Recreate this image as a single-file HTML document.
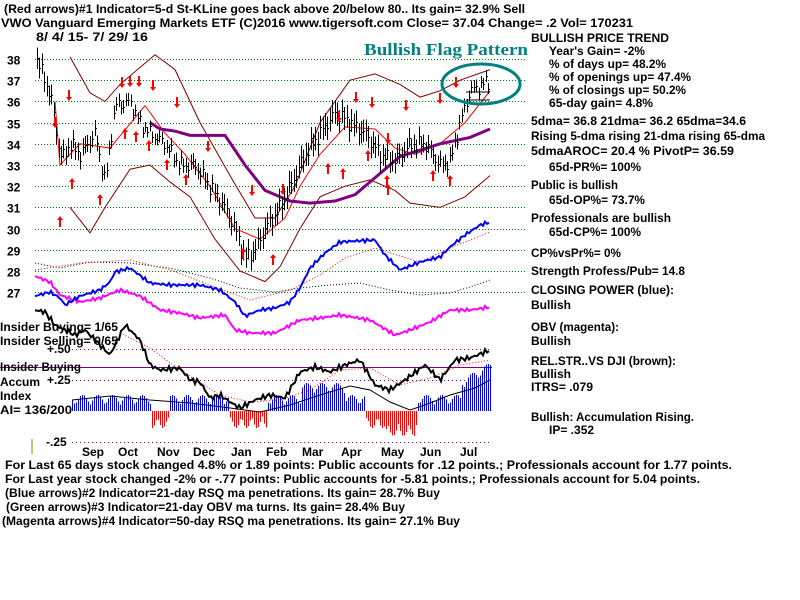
<!DOCTYPE html>
<html><head><meta charset="utf-8"><style>
html,body{margin:0;padding:0;background:#fff;}
svg{display:block;}
text{font-family:"Liberation Sans",sans-serif;font-size:12px;fill:#000;font-weight:bold;}
</style></head><body>
<svg id="s" width="800" height="600" viewBox="0 0 800 600" xmlns="http://www.w3.org/2000/svg">
<g id="grid"></g>
<g id="chart"></g>
<text x="4" y="13" textLength="521" lengthAdjust="spacingAndGlyphs">(Red arrows)#1 Indicator=5-d St-KLine goes back above 20/below 80.. Its gain= 32.9% Sell</text>
<text x="1" y="27" textLength="632" lengthAdjust="spacingAndGlyphs">VWO   Vanguard Emerging Markets ETF   (C)2016 www.tigersoft.com      Close=  37.04  Change= .2 Vol=  170231</text>
<text x="36" y="41" textLength="112" lengthAdjust="spacingAndGlyphs">8/ 4/ 15-  7/ 29/ 16</text>
<text x="364" y="55" style="font-family:'Liberation Serif',serif;font-size:17px;font-weight:bold;fill:#008080" textLength="164" lengthAdjust="spacingAndGlyphs">Bullish Flag Pattern</text>
<ellipse cx="481" cy="84" rx="39" ry="20" fill="none" stroke="#008080" stroke-width="3"/>
<g id="right">
<text x="531" y="42" textLength="138" lengthAdjust="spacingAndGlyphs">BULLISH PRICE TREND</text>
<text x="549" y="55" textLength="96" lengthAdjust="spacingAndGlyphs">Year's Gain= -2%</text>
<text x="549" y="68" textLength="117" lengthAdjust="spacingAndGlyphs">% of days up= 48.2%</text>
<text x="549" y="81" textLength="142" lengthAdjust="spacingAndGlyphs">% of openings up= 47.4%</text>
<text x="549" y="94" textLength="137" lengthAdjust="spacingAndGlyphs">% of closings up= 50.2%</text>
<text x="549" y="107" textLength="104" lengthAdjust="spacingAndGlyphs">65-day gain= 4.8%</text>
<text x="531" y="125" textLength="215" lengthAdjust="spacingAndGlyphs">5dma= 36.8 21dma= 36.2 65dma=34.6</text>
<text x="531" y="140" textLength="234" lengthAdjust="spacingAndGlyphs">Rising 5-dma  rising 21-dma  rising 65-dma</text>
<text x="531" y="155" textLength="203" lengthAdjust="spacingAndGlyphs">5dmaAROC= 20.4 %  PivotP= 36.59</text>
<text x="549" y="171" textLength="92" lengthAdjust="spacingAndGlyphs">65d-PR%= 100%</text>
<text x="531" y="189" textLength="87" lengthAdjust="spacingAndGlyphs">Public is bullish</text>
<text x="549" y="204" textLength="96" lengthAdjust="spacingAndGlyphs">65d-OP%= 73.7%</text>
<text x="531" y="222" textLength="140" lengthAdjust="spacingAndGlyphs">Professionals are bullish</text>
<text x="549" y="236" textLength="92" lengthAdjust="spacingAndGlyphs">65d-CP%= 100%</text>
<text x="531" y="257" textLength="90" lengthAdjust="spacingAndGlyphs">CP%vsPr%=  0%</text>
<text x="531" y="275" textLength="154" lengthAdjust="spacingAndGlyphs">Strength Profess/Pub= 14.8</text>
<text x="531" y="294" textLength="143" lengthAdjust="spacingAndGlyphs">CLOSING POWER (blue):</text>
<text x="531" y="309">Bullish</text>
<text x="531" y="331" textLength="88" lengthAdjust="spacingAndGlyphs">OBV (magenta):</text>
<text x="531" y="345">Bullish</text>
<text x="531" y="365" textLength="145" lengthAdjust="spacingAndGlyphs">REL.STR..VS DJI (brown):</text>
<text x="531" y="378">Bullish</text>
<text x="531" y="391" textLength="62" lengthAdjust="spacingAndGlyphs">ITRS= .079</text>
<text x="531" y="421" textLength="163" lengthAdjust="spacingAndGlyphs">Bullish: Accumulation Rising.</text>
<text x="549" y="434">IP=  .352</text>
</g>
<g>
<text x="0" y="331" textLength="118" lengthAdjust="spacingAndGlyphs">Insider Buying= 1/65</text>
<text x="0" y="345" textLength="118" lengthAdjust="spacingAndGlyphs">Insider Selling= 0/65</text>
<text x="47" y="353">+.50</text>
<text x="0" y="371" textLength="81" lengthAdjust="spacingAndGlyphs">Insider Buying</text>
<text x="0" y="386">Accum</text>
<text x="47" y="384">+.25</text>
<text x="0" y="400">Index</text>
<text x="0" y="414" textLength="72" lengthAdjust="spacingAndGlyphs">AI= 136/200</text>
<text x="46" y="446">-.25</text>
<line x1="32" y1="439" x2="32" y2="454" stroke="#808000"/>
<text x="82" y="456">Sep</text><text x="118" y="456">Oct</text><text x="157" y="456">Nov</text><text x="193" y="456">Dec</text><text x="231" y="456">Jan</text><text x="266" y="456">Feb</text><text x="302" y="456">Mar</text><text x="341" y="456">Apr</text><text x="381" y="456">May</text><text x="420" y="456">Jun</text><text x="460" y="456">Jul</text>
<text x="5" y="469" textLength="727" lengthAdjust="spacingAndGlyphs">For Last 65 days stock changed  4.8% or  1.89 points:  Public accounts for  .12 points.;  Professionals account for  1.77 points.</text>
<text x="5" y="483" textLength="695" lengthAdjust="spacingAndGlyphs">For Last year stock changed -2% or -.77 points:  Public accounts for -5.81 points.;  Professionals account for  5.04 points.</text>
<text x="5" y="497" textLength="435" lengthAdjust="spacingAndGlyphs">(Blue arrows)#2 Indicator=21-day RSQ ma penetrations. Its gain= 28.7% Buy</text>
<text x="6" y="511" textLength="399" lengthAdjust="spacingAndGlyphs">(Green arrows)#3 Indicator=21-day OBV ma turns. Its gain= 28.4% Buy</text>
<text x="2" y="525" textLength="458" lengthAdjust="spacingAndGlyphs">(Magenta arrows)#4 Indicator=50-day RSQ ma penetrations. Its gain= 27.1% Buy</text>
</g>
</svg>
<script>
var NS="http://www.w3.org/2000/svg";
function el(p,t,a){var e=document.createElementNS(NS,t);for(var k in a)e.setAttribute(k,a[k]);p.appendChild(e);return e;}
var G=document.getElementById('grid'),C=document.getElementById('chart');
function py(p){return 59+(38-p)*21.2;}
for(var p=27;p<=38;p++){var y=Math.round(py(p))+0.5;el(G,'line',{x1:35,x2:525,y1:y,y2:y,stroke:'#008000','stroke-dasharray':'1,2'});
 var t=el(G,'text',{x:7,y:y+5,'font-size':'13'});t.textContent=p;}
[349,380,442].forEach(function(y){el(G,'line',{x1:72,x2:490,y1:y+0.5,y2:y+0.5,stroke:'#800080','stroke-dasharray':'1,3'});});
el(G,'line',{x1:0,x2:492,y1:367.5,y2:367.5,stroke:'#800080'});
function interp(pts,x){for(var i=1;i<pts.length;i++){if(x<=pts[i][0]){var a=pts[i-1],b=pts[i];return a[1]+(b[1]-a[1])*(x-a[0])/(b[0]-a[0]);}}return pts[pts.length-1][1];}
function line(pts,col,w,price,dash){var s=pts.map(function(q){return q[0]+','+(price?py(q[1]):q[1]);}).join(' ');
 var a={points:s,fill:'none',stroke:col,'stroke-width':w};if(dash)a['stroke-dasharray']=dash;el(C,'polyline',a);}
function wig(pts,x0,x1,amp){var o=[];for(var x=x0;x<=x1;x+=2){o.push([x,interp(pts,x)+amp*Math.sin(x*1.7)*Math.cos(x*0.37)]);}return o;}
var up=[[70,38.1],[90,36.4],[105,36],[120,36.8],[155,38.2],[175,37.5],[200,35],[230,32.5],[255,30.5],[275,30.5],[295,32],[320,35],[350,37],[375,37.3],[400,36.8],[420,36.2],[440,36.5],[460,37],[490,37.5]];
var lo=[[70,31],[90,29.8],[105,31],[130,32.8],[150,33],[170,32.2],[190,31.5],[215,29.5],[240,28],[265,27.5],[280,28.2],[300,30],[320,31.5],[345,32],[370,32.3],[395,31.8],[410,31.2],[440,31],[465,31.5],[490,32.5]];
var mid=[[55,36],[60,33],[80,34],[110,33.8],[145,35.8],[165,34.5],[185,33.5],[210,32],[235,30],[260,29.5],[285,30.5],[300,32],[320,33.5],[345,34.8],[375,34.7],[395,33.8],[415,33.5],[440,34],[465,35],[490,36.5]];
var pur=[[150,35],[160,34.7],[175,34.6],[190,34.4],[225,34.4],[245,33],[265,31.8],[290,31.3],[310,31.2],[335,31.3],[355,31.6],[380,32.6],[400,33.4],[420,33.7],[440,34],[470,34.3],[490,34.7]];
line(up,'#800000',1,true);line(lo,'#800000',1,true);line(mid,'#ff0000',1,true);line(pur,'#800080',3,true);
var pr=[[37,38],[45,37],[52,36],[58,34],[62,33.3],[70,34],[80,33.5],[95,34.5],[105,32.2],[115,35.8],[130,36],[140,35],[150,34.5],[165,34],[180,33],[195,33],[210,32],[225,31],[235,30],[245,28.6],[255,29],[265,30],[280,31],[295,32.5],[305,33.5],[320,34.5],[335,35.5],[350,35],[365,34.5],[380,33.5],[395,33.2],[410,34],[425,34],[440,33],[450,33.2],[460,35],[470,36.5],[490,37]];
for(var x=37;x<=490;x+=2.4){var xx=Math.round(x)+0.5;var c=interp(pr,x)+0.4*Math.sin(x*2.3)*Math.cos(x*0.9);var r=0.25+0.3*Math.abs(Math.sin(x*1.3));
 el(C,'line',{x1:xx,x2:xx,y1:py(c+r),y2:py(c-r),stroke:'#000','shape-rendering':'crispEdges'});
 var cy=Math.round(py(c))+0.5;el(C,'line',{x1:xx,x2:xx+1.5,y1:cy,y2:cy,stroke:'#000','shape-rendering':'crispEdges'});}
function arr(x,y,down){var d=down?'M'+x+','+(y+8)+' l-3,-4 h2 v-7 h2 v7 h2 z':'M'+x+','+(y-8)+' l-3,4 h2 v7 h2 v-7 h2 z';el(C,'path',{d:d,fill:'#ff0000'});}
[[69,93],[122,80],[130,79],[139,79],[153,83],[177,100],[208,144],[252,188],[283,187],[356,95],[372,100],[339,114],[406,103],[456,80],[388,136],[440,96],[55,120]].forEach(function(a){arr(a[0],a[1],true);});
[[60,224],[72,186],[100,202],[125,136],[136,139],[149,148],[167,167],[186,182],[243,256],[273,262],[328,171],[343,176],[368,158],[387,183],[433,178],[450,183],[388,192]].forEach(function(a){arr(a[0],a[1],false);});
var blue=[[35,296],[50,292],[60,298],[65,305],[80,296],[100,290],[110,282],[115,272],[130,268],[150,283],[170,285],[200,285],[220,290],[235,302],[245,316],[260,310],[275,308],[290,302],[300,288],[310,268],[325,253],[340,242],[355,241],[375,240],[385,255],[400,270],[420,262],[440,257],[450,247],[465,235],[480,225],[490,222]];
var mag=[[35,276],[50,282],[60,295],[80,302],[100,298],[120,290],[140,296],[160,310],[180,313],[200,318],[225,315],[235,330],[250,333],[275,333],[300,320],[320,318],[340,315],[370,320],[395,335],[410,330],[430,322],[450,310],[470,310],[490,307]];
var blk=[[35,310],[45,312],[55,325],[65,330],[75,335],[85,330],[100,345],[110,355],[125,325],[140,340],[150,365],[160,370],[180,368],[190,380],[200,382],[210,398],[220,395],[230,402],[240,408],[255,400],[270,395],[285,398],[300,372],[315,367],[330,372],[345,365],[360,360],[375,385],[390,390],[405,380],[425,365],[440,380],[455,360],[470,358],[490,350]];
for(var x=72;x<=490;x+=2){var v=6+10*Math.abs(Math.sin(x*0.21))+(x>300&&x<345?12:0)+(x>460?15+(x-460)*0.6:0);
 if((x>150&&x<170)||(x>228&&x<268)||(x>365&&x<418)){v=-(5+12*Math.abs(Math.sin(x*0.3)));if(x>385&&x<415)v-=8;}
 el(C,'line',{x1:x+0.5,x2:x+0.5,y1:411,y2:411-v,stroke:v>0?'#0000ff':'#ff0000','shape-rendering':'crispEdges'});}
line([[72,400],[110,396],[150,400],[190,403],[230,408],[260,412],[290,405],[320,395],[350,386],[370,390],[390,402],[410,410],[425,405],[450,395],[475,388],[490,380]],'#000',1);
line([[35,263],[60,268],[90,262],[130,263],[170,268],[210,278],[240,288],[275,292],[300,288],[330,285],[360,283],[390,290],[420,295],[450,293],[470,287],[490,280]],'#000',1,false,'1,2');
line([[35,270],[80,263],[130,260],[170,270],[210,285],[250,300],[290,290],[320,275],[345,258],[375,248],[400,256],[420,262],[450,248],[490,232]],'#ff0000',1,false,'1,2');
line([[120,333],[150,348],[180,370],[220,395],[250,402],[280,400],[310,390],[340,370],[370,368],[400,385],[430,378],[460,365],[490,360]],'#ff0000',1,false,'1,2');
line(wig(mag,35,490,2),'#ff00ff',2);
line(wig(blue,35,490,2),'#0000ff',2);
line(wig(blk,35,490,3),'#000',2);
line([[466,92],[490,92]],'#000',1);line([[466,100],[490,100]],'#000',1);
</script>
</body></html>
